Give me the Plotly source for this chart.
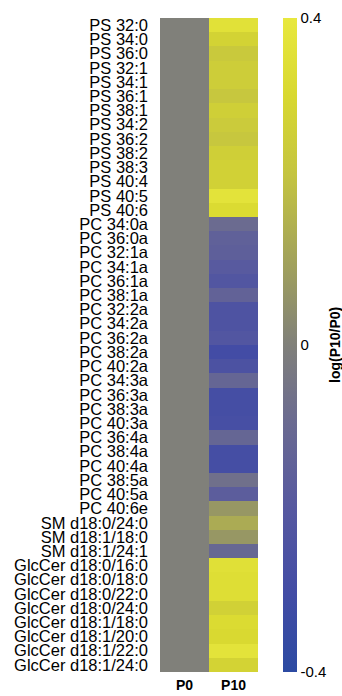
import plotly.graph_objects as go

# Lipid species, listed top to bottom
lipids = [
    "PS 32:0", "PS 34:0", "PS 36:0", "PS 32:1", "PS 34:1", "PS 36:1", "PS 38:1",
    "PS 34:2", "PS 36:2", "PS 38:2", "PS 38:3", "PS 40:4", "PS 40:5", "PS 40:6",
    "PC 34:0a", "PC 36:0a", "PC 32:1a", "PC 34:1a", "PC 36:1a", "PC 38:1a",
    "PC 32:2a", "PC 34:2a", "PC 36:2a", "PC 38:2a", "PC 40:2a", "PC 34:3a",
    "PC 36:3a", "PC 38:3a", "PC 40:3a", "PC 36:4a", "PC 38:4a", "PC 40:4a",
    "PC 38:5a", "PC 40:5a", "PC 40:6e",
    "SM d18:0/24:0", "SM d18:1/18:0", "SM d18:1/24:1",
    "GlcCer d18:0/16:0", "GlcCer d18:0/18:0", "GlcCer d18:0/22:0",
    "GlcCer d18:0/24:0", "GlcCer d18:1/18:0", "GlcCer d18:1/20:0",
    "GlcCer d18:1/22:0", "GlcCer d18:1/24:0",
]

timepoints = ["P0", "P10"]

# log(P10/P0) per species; P0 is the reference so it is 0 everywhere
p0_values = [0.0] * len(lipids)
p10_values = [
    0.36, 0.28, 0.23, 0.25, 0.25, 0.22, 0.26,
    0.24, 0.22, 0.26, 0.27, 0.27, 0.37, 0.32,
    -0.09, -0.15, -0.16, -0.19, -0.22, -0.14,
    -0.24, -0.24, -0.22, -0.30, -0.25, -0.12,
    -0.29, -0.29, -0.28, -0.12, -0.29, -0.29,
    -0.07, -0.17, 0.07,
    0.13, 0.07, -0.11,
    0.35, 0.34, 0.34, 0.27, 0.32, 0.31, 0.37, 0.28,
]

colorbar_ticks = [-0.4, 0, 0.4]
colorbar_ticktext = ["-0.4", "0", "0.4"]

z = [[a, b] for a, b in zip(p0_values, p10_values)]

colorscale = [
    [0.00, "rgb(44,74,162)"],
    [0.12, "rgb(66,76,165)"],
    [0.25, "rgb(86,88,160)"],
    [0.38, "rgb(106,106,145)"],
    [0.50, "rgb(128,128,122)"],
    [0.62, "rgb(160,160,92)"],
    [0.76, "rgb(196,196,64)"],
    [0.88, "rgb(216,216,48)"],
    [1.00, "rgb(232,232,62)"],
]

font_family = "Liberation Sans, Arial, sans-serif"

fig = go.Figure(
    go.Heatmap(
        z=z,
        x=timepoints,
        y=lipids,
        zmin=-0.4,
        zmax=0.4,
        colorscale=colorscale,
        showscale=True,
        colorbar=dict(
            xref="container",
            x=273 / 342,
            xanchor="left",
            thickness=14,
            thicknessmode="pixels",
            len=1,
            lenmode="fraction",
            y=0.5,
            yanchor="middle",
            ypad=0,
            outlinewidth=0,
            ticks="",
            tickmode="array",
            tickvals=colorbar_ticks,
            ticktext=colorbar_ticktext,
            tickfont=dict(family=font_family, size=15, color="black"),
        ),
        hoverinfo="skip",
    )
)

fig.add_annotation(
    text="<b>log(P10/P0)</b>",
    xref="paper",
    yref="paper",
    x=(335 - 160) / 98,
    y=(672 - 345) / 654,
    xanchor="center",
    yanchor="middle",
    textangle=-90,
    showarrow=False,
    font=dict(family=font_family, size=14, color="black"),
)

fig.update_xaxes(
    tickmode="array",
    tickvals=timepoints,
    ticktext=["<b>P0</b>", "<b>P10</b>"],
    tickfont=dict(family=font_family, size=14, color="black"),
    ticks="",
    ticklabelstandoff=3,
    showgrid=False,
    zeroline=False,
    showline=False,
    automargin=False,
)

fig.update_yaxes(
    tickmode="array",
    tickvals=lipids,
    ticktext=lipids,
    autorange="reversed",
    tickfont=dict(family=font_family, size=16.5, color="black"),
    ticks="",
    ticklabelstandoff=11,
    showgrid=False,
    zeroline=False,
    showline=False,
    automargin=False,
)

fig.update_layout(
    width=342,
    height=696,
    margin=dict(l=160, r=84, t=18, b=24),
    paper_bgcolor="white",
    plot_bgcolor="white",
    font=dict(family=font_family, color="black"),
)

fig.write_html("out.html")
